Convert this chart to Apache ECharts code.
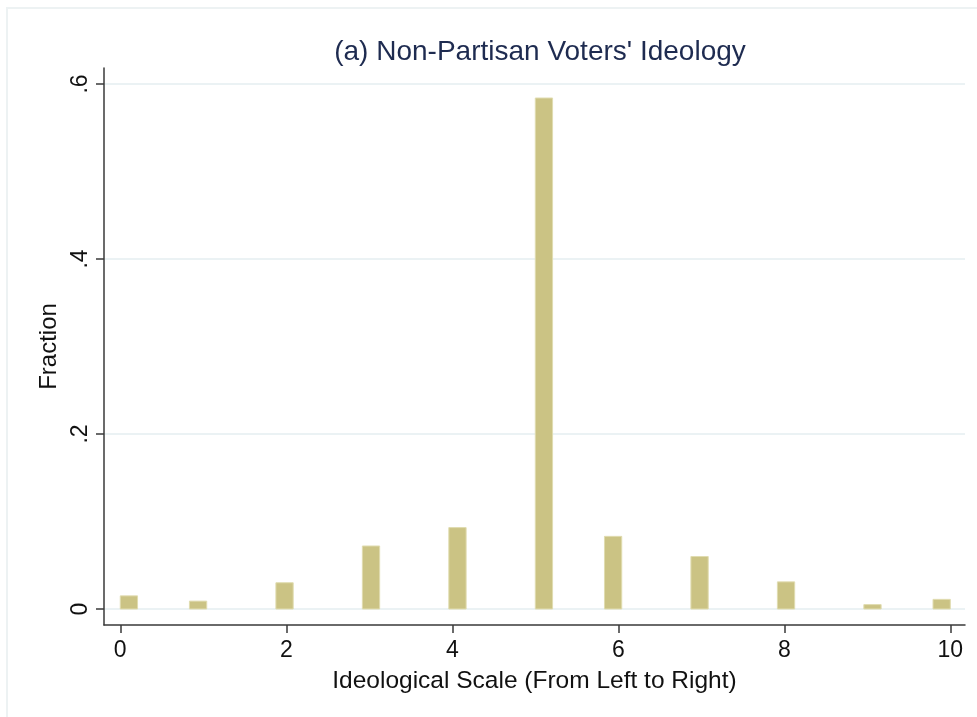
<!DOCTYPE html>
<html>
<head>
<meta charset="utf-8">
<script src="https://cdn.jsdelivr.net/npm/echarts@6/dist/echarts.min.js"></script>
<style>
  html, body { margin: 0; padding: 0; background: #fff; }
  #chart { width: 977px; height: 717px; }
</style>
</head>
<body>
<div id="chart"></div>
<script>
// ideology score (0 = left, 10 = right)
var scaleValues = [0, 1, 2, 3, 4, 5, 6, 7, 8, 9, 10];
// fraction of non-partisan voters at each score
var fractions = [0.015, 0.009, 0.030, 0.072, 0.093, 0.584, 0.083, 0.060, 0.031, 0.005, 0.011];
// histogram bin edges (stata-style bins of width 10/48)
var binStart = [0, 0.8333, 1.875, 2.9167, 3.9583, 5.0, 5.8333, 6.875, 7.9167, 8.9583, 9.7917];
var binWidth = 10 / 48;
var xTicks = [0, 2, 4, 6, 8, 10];
var yTicks = [0, 0.2, 0.4, 0.6];

var font = "Liberation Sans, Arial, sans-serif";

var barData = scaleValues.map(function (v, i) {
  return [binStart[i], binStart[i] + binWidth, fractions[i], v];
});

var myChart = echarts.init(document.getElementById("chart"));

myChart.setOption({
  backgroundColor: "#ffffff",
  animation: false,
  title: {
    text: "(a) Non-Partisan Voters' Ideology",
    left: 535,
    textAlign: "center",
    top: 33,
    textStyle: { color: "#1e2b50", fontSize: 28, fontWeight: "normal", fontFamily: font },
  },
  // outer frame of the graph region
  graphic: [
    {
      type: "rect",
      shape: { x: 7, y: 8, width: 1000, height: 720 },
      style: { fill: "none", stroke: "#edf2f3", lineWidth: 2 },
      silent: true,
    },
  ],
  grid: [
    { left: 104, right: 12, top: 68, bottom: 92 },
    // grid only used for the horizontal reference lines
    { left: 104, right: 12, top: 84, bottom: 108 },
  ],
  xAxis: [
    {
      gridIndex: 0,
      type: "value",
      min: -0.196,
      max: 10.177,
      name: "Ideological Scale (From Left to Right)",
      nameLocation: "middle",
      nameGap: 44,
      nameTextStyle: { color: "#111", fontSize: 24.5, fontFamily: font },
      axisLine: { show: true, onZero: false, lineStyle: { color: "#3a3a3a", width: 1.5 } },
      axisTick: { show: true, length: 8, customValues: xTicks, lineStyle: { color: "#3a3a3a", width: 1.5 } },
      axisLabel: { customValues: xTicks, margin: 14, color: "#111", fontSize: 23, fontFamily: font },
      splitLine: { show: false },
    },
    { gridIndex: 1, type: "value", min: 0, max: 10, show: false },
  ],
  yAxis: [
    {
      gridIndex: 0,
      type: "value",
      min: -0.0183,
      max: 0.6183,
      name: "Fraction",
      nameLocation: "middle",
      nameRotate: 90,
      nameGap: 43,
      nameTextStyle: { color: "#111", fontSize: 24, fontFamily: font },
      axisLine: { show: true, onZero: false, lineStyle: { color: "#3a3a3a", width: 1.5 } },
      axisTick: { show: true, length: 8, customValues: yTicks, lineStyle: { color: "#3a3a3a", width: 1.5 } },
      axisLabel: {
        customValues: yTicks,
        rotate: 90,
        margin: 12,
        color: "#111",
        fontSize: 23,
        fontFamily: font,
        formatter: function (v) {
          return v === 0 ? "0" : String(v.toFixed(1)).replace(/^0/, "");
        },
      },
      splitLine: { show: false },
    },
    {
      gridIndex: 1,
      type: "value",
      min: 0,
      max: 0.6,
      interval: 0.2,
      axisLine: { show: false },
      axisTick: { show: false },
      axisLabel: { show: false },
      splitLine: { show: true, lineStyle: { color: "#e4eef0", width: 1.5 } },
    },
  ],
  series: [
    {
      type: "custom",
      xAxisIndex: 0,
      yAxisIndex: 0,
      data: barData,
      renderItem: function (params, api) {
        var p0 = api.coord([api.value(0), api.value(2)]);
        var p1 = api.coord([api.value(1), 0]);
        return {
          type: "rect",
          shape: { x: p0[0], y: p0[1], width: p1[0] - p0[0], height: p1[1] - p0[1] },
          style: { fill: "#cbc384", stroke: "#e0dcb0", lineWidth: 1 },
        };
      },
    },
  ],
});
</script>
</body>
</html>
